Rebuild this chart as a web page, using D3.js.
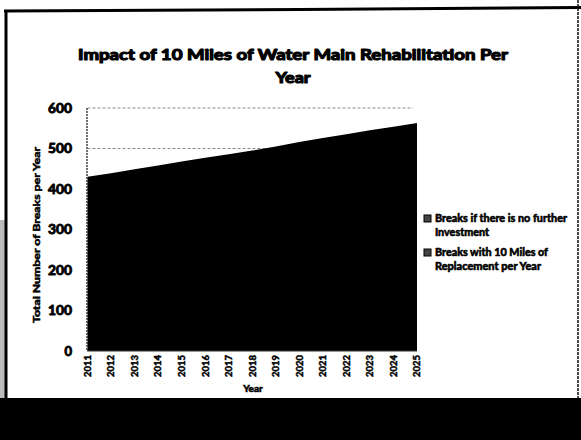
<!DOCTYPE html>
<html>
<head>
<meta charset="utf-8">
<script src="https://cdn.jsdelivr.net/npm/d3@7"></script>
<style>
  body { margin: 0; background: #fff; }
  svg { display: block; font-family: Lato, "Open Sans", sans-serif; font-weight: bold; }
</style>
</head>
<body>
<svg id="chart"></svg>
<script>
const years = ["2011", "2012", "2013", "2014", "2015", "2016", "2017", "2018",
               "2019", "2020", "2021", "2022", "2023", "2024", "2025"];
// the only series that survives the photocopy (black area)
const breaks = [430, 439, 449, 458, 468, 477, 486, 495, 505, 516, 526, 535, 545, 554, 563];
const yTicks = [0, 100, 200, 300, 400, 500, 600];
const legendItems = [
    ["Breaks if there is no further", "Investment"],
    ["Breaks with 10 Miles of", "Replacement per Year"]
];
const titleLines = ["Impact of 10 Miles  of Water Main Rehabilitation Per", "Year"];

const W = 581, H = 440;
const svg = d3.select("#chart").attr("width", W).attr("height", H);

// slide frame, as scanned
svg.append("rect").attr("x", 0).attr("y", 0).attr("width", W).attr("height", H).attr("fill", "#fff");
svg.append("rect").attr("x", 0).attr("y", 220).attr("width", 5).attr("height", 180).attr("fill", "#bbb");
svg.append("rect").attr("x", 0).attr("y", 398).attr("width", W).attr("height", 42).attr("fill", "#000");
svg.append("path").attr("d", "M4,11 L300,9.5 L581,7.5").attr("stroke", "#000").attr("stroke-width", 3).attr("fill", "none");
svg.append("line").attr("x1", 6).attr("x2", 6).attr("y1", 10).attr("y2", 398).attr("stroke", "#000").attr("stroke-width", 3);
svg.append("line").attr("x1", 578).attr("x2", 578).attr("y1", 0).attr("y2", 398).attr("stroke", "#111").attr("stroke-width", 1.5)
    .attr("stroke-dasharray", "3,1");

const x = d3.scalePoint().domain(years).range([87.5, 417]);
const y = d3.scaleLinear().domain([0, 600]).range([351, 108]);

// gridlines
svg.append("g")
    .selectAll("line")
    .data(yTicks.slice(1))
    .join("line")
    .attr("x1", x.range()[0]).attr("x2", 413)
    .attr("y1", d => y(d)).attr("y2", d => y(d))
    .attr("stroke", "#888").attr("stroke-width", 1).attr("stroke-dasharray", "3,2");

// area
const area = d3.area()
    .x((d, i) => x(years[i]))
    .y0(y(0))
    .y1(d => y(d));

svg.append("path")
    .datum(breaks)
    .attr("d", area)
    .attr("fill", "#000");

// axes lines
svg.append("line").attr("x1", 87).attr("x2", 87).attr("y1", y(600)).attr("y2", y(0))
    .attr("stroke", "#222").attr("stroke-width", 1.3).attr("stroke-dasharray", "2,1");
svg.append("line").attr("x1", 87).attr("x2", 417).attr("y1", y(0)).attr("y2", y(0))
    .attr("stroke", "#333").attr("stroke-width", 1.2);

// heavy text, like the photocopy
function heavy(sel, w) {
    sel.attr("stroke", "#000").attr("stroke-width", w).attr("stroke-linejoin", "round");
}

// y tick labels
svg.append("g")
    .selectAll("text")
    .data(yTicks)
    .join("text")
    .attr("x", 72)
    .attr("y", d => y(d))
    .attr("dy", "0.36em")
    .attr("text-anchor", "end")
    .attr("font-size", 13)
    .attr("textLength", d => d === 0 ? null : 24)
    .attr("lengthAdjust", "spacingAndGlyphs")
    .text(d => d)
    .call(heavy, 0.9);

// x tick labels
svg.append("g")
    .selectAll("text")
    .data(years)
    .join("text")
    .attr("transform", d => `translate(${x(d)},355) rotate(-90)`)
    .attr("dy", "0.35em")
    .attr("text-anchor", "end")
    .attr("font-size", 9.5)
    .text(d => d)
    .call(heavy, 0.5);

// axis titles
svg.append("text")
    .attr("x", 253).attr("y", 392)
    .attr("text-anchor", "middle")
    .attr("font-size", 10)
    .text("Year")
    .call(heavy, 0.6);

svg.append("text")
    .attr("transform", "translate(37,235) rotate(-90)")
    .attr("dy", "0.35em")
    .attr("text-anchor", "middle")
    .attr("font-size", 9)
    .attr("textLength", 176)
    .attr("lengthAdjust", "spacingAndGlyphs")
    .text("Total Number of Breaks per Year")
    .call(heavy, 0.5);

// title
const titleWidths = [430, 35];
svg.append("g")
    .selectAll("text")
    .data(titleLines)
    .join("text")
    .attr("x", 293)
    .attr("y", (d, i) => 60 + i * 23)
    .attr("text-anchor", "middle")
    .attr("font-size", 16)
    .attr("textLength", (d, i) => titleWidths[i])
    .attr("lengthAdjust", "spacingAndGlyphs")
    .text(d => d)
    .call(heavy, 1.2);

// legend
const legendWidths = [[132, 54], [113, 106]];
const legend = svg.append("g")
    .selectAll("g")
    .data(legendItems)
    .join("g")
    .attr("transform", (d, i) => `translate(424,${222 + i * 34})`);

legend.append("rect")
    .attr("x", 0).attr("y", -7)
    .attr("width", 7).attr("height", 7)
    .attr("fill", "#444").attr("stroke", "#000");

legend.each(function (d, i) {
    d3.select(this).selectAll("text")
        .data(d)
        .join("text")
        .attr("x", 11)
        .attr("y", (t, j) => j * 14)
        .attr("font-size", 10.5)
        .attr("textLength", (t, j) => legendWidths[i][j])
        .attr("lengthAdjust", "spacingAndGlyphs")
        .text(t => t)
        .call(heavy, 0.6);
});
</script>
</body>
</html>
